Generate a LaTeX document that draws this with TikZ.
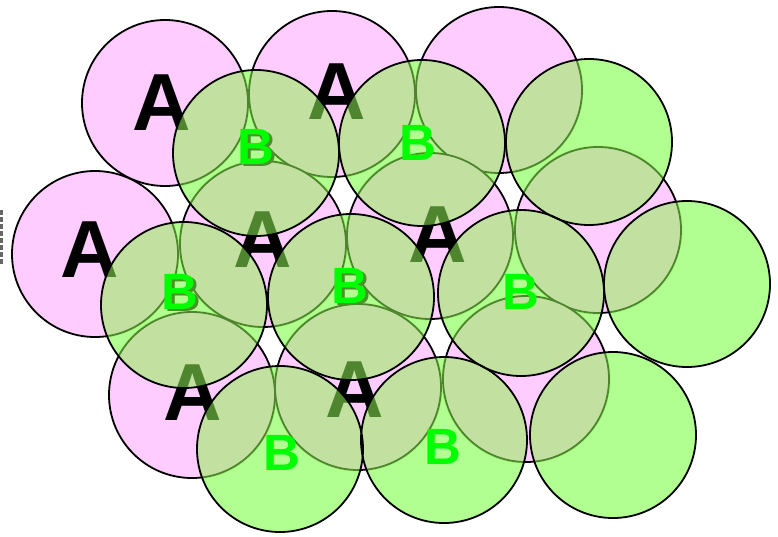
\documentclass[tikz,border=0pt]{standalone}
\usepackage{fontspec}
\setmainfont{Liberation Sans}
\definecolor{pinkA}{HTML}{FFCCFF}
\definecolor{greenW}{HTML}{B0FF90}
\definecolor{greenT}{RGB}{144,244,85}
\definecolor{bgreen}{HTML}{00FF00}
\definecolor{bshadow}{HTML}{4E8F2E}
\tikzset{
  pinkc/.style={circle, minimum size=166pt, inner sep=0, fill=pinkA, draw=black, line width=1.8pt},
  greenrim/.style={circle, minimum size=166pt, inner sep=0, draw=black, line width=1.8pt},
  alab/.style={font=\fontsize{81}{81}\selectfont\bfseries, text=black, inner sep=0},
  blab/.style={font=\fontsize{51}{51}\selectfont\bfseries, text=bgreen, inner sep=0},
}
\newcommand{\shadB}{\makebox[0pt][l]{\hspace{2.5pt}\raisebox{-2.5pt}{\textcolor{bshadow}{B}}}B}
\begin{document}
\begin{tikzpicture}[x=1pt,y=-1pt]
\useasboundingbox (0,0) rectangle (778,536);
% green circles, opaque base (visible only where no pink lies behind)
\foreach \x/\y in {256/153,422/143,589/142,184/305,351/297,521/293,687/284,280/449,444/440,613/435}
  \fill[greenW] (\x,\y) circle[radius=83pt];
% pink layer A
\node[pinkc] (p1) at (165,103) {};
\node[pinkc] (p2) at (332,94) {};
\node[pinkc] (p3) at (499,90) {};
\node[pinkc] (p4) at (95,254) {};
\node[pinkc] (p5) at (263,244) {};
\node[pinkc] (p6) at (430,236) {};
\node[pinkc] (p7) at (598,230) {};
\node[pinkc] (p8) at (192,395) {};
\node[pinkc] (p9) at (358,387) {};
\node[pinkc] (p10) at (526,379) {};
\node[alab] (a1) at (162,103) {A};
\node[alab] (a2) at (337,92) {A};
\node[alab] (a4) at (90,250) {A};
\node[alab] (a5) at (263,240) {A};
\node[alab] (a6) at (438,235) {A};
\node[alab] (a8) at (193,393) {A};
\node[alab] (a9) at (355,390) {A};
% translucent green where the pink layer lies behind
\begin{scope}
  \clip (165,103) circle[radius=84.5pt] (332,94) circle[radius=84.5pt] (499,90) circle[radius=84.5pt]
        (95,254) circle[radius=84.5pt] (263,244) circle[radius=84.5pt] (430,236) circle[radius=84.5pt]
        (598,230) circle[radius=84.5pt] (192,395) circle[radius=84.5pt] (358,387) circle[radius=84.5pt]
        (526,379) circle[radius=84.5pt];
  \foreach \x/\y in {256/153,422/143,589/142,184/305,351/297,521/293,687/284,280/449,444/440,613/435}
    \fill[greenT, fill opacity=0.55] (\x,\y) circle[radius=83pt];
\end{scope}
% green rims, layer B
\node[greenrim] (g1) at (256,153) {};
\node[greenrim] (g2) at (422,143) {};
\node[greenrim] (g3) at (589,142) {};
\node[greenrim] (g4) at (184,305) {};
\node[greenrim] (g5) at (351,297) {};
\node[greenrim] (g6) at (521,293) {};
\node[greenrim] (g7) at (687,284) {};
\node[greenrim] (g8) at (280,449) {};
\node[greenrim] (g9) at (444,440) {};
\node[greenrim] (g10) at (613,435) {};
% B labels
\node[blab] (b1) at (256,148) {\shadB};
\node[blab] (b2) at (418,143) {B};
\node[blab] (b4) at (180,293) {\shadB};
\node[blab] (b5) at (350,287) {\shadB};
\node[blab] (b6) at (521,292) {B};
\node[blab] (b8) at (282,453) {B};
\node[blab] (b9) at (443,447) {B};
% faint mark at the left edge
\coordinate (m1) at (1.5,210);
\coordinate (m2) at (1.5,264);
\draw[gray!80!black, line width=3pt, dash pattern=on 5pt off 2pt] (m1) -- (m2);
\end{tikzpicture}
\end{document}
